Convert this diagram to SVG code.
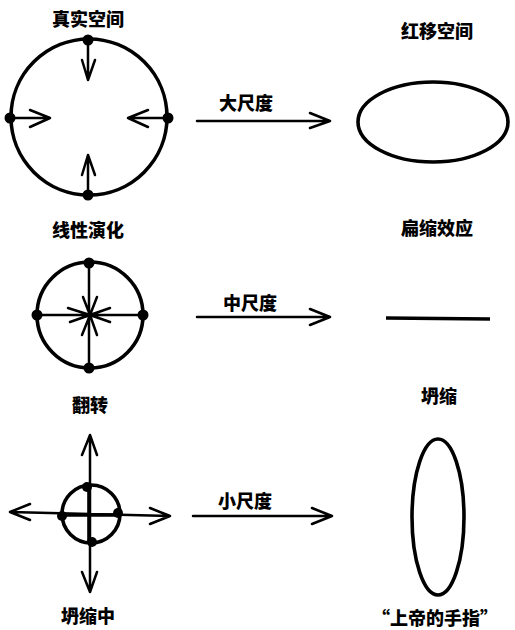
<svg xmlns="http://www.w3.org/2000/svg" width="515" height="630" viewBox="0 0 515 630">
<style>
text{font-family:"Noto Sans CJK SC","Noto Sans",sans-serif;font-weight:900;font-size:18px;fill:#000;text-anchor:middle}
.shape{fill:none;stroke:#000;stroke-width:3.6}
.ln{fill:none;stroke:#000;stroke-width:2.5;stroke-linecap:round;stroke-linejoin:round}
.dot{fill:#000}
</style>
<rect width="515" height="630" fill="#fff"/>
<!-- left column -->
<g id="real-space">
<text x="88" y="26">真实空间</text>
<circle class="shape" cx="89" cy="117" r="78"/>
<path class="ln" d="M88 40V80M82 60L88 80L95 60M10 118H50M30 110L50 118L30 127M168 118H128M148 110L128 118L148 127M88 195V155M82 175L88 155L95 175"/>
<circle class="dot" cx="88" cy="40" r="5.5"/>
<circle class="dot" cx="88" cy="195" r="5.5"/>
<circle class="dot" cx="10" cy="118" r="5.5"/>
<circle class="dot" cx="168" cy="118" r="5.5"/>
</g>
<g id="linear-evolution">
<text x="88" y="237">线性演化</text>
<circle class="shape" cx="90" cy="315" r="53"/>
<path class="ln" d="M89 263V368M37 315H143M83 297L90 315L97 297M68 308L90 315L110 308M70 322L90 315L110 322M82 335L90 315L97 335"/>
<circle class="dot" cx="89" cy="263" r="5.5"/>
<circle class="dot" cx="89" cy="368" r="5.5"/>
<circle class="dot" cx="37" cy="315" r="5.5"/>
<circle class="dot" cx="143" cy="315" r="5.5"/>
</g>
<g id="flip">
<text x="90" y="412">翻转</text>
<circle class="shape" cx="91" cy="514" r="29"/>
<path class="ln" d="M90 435V592M82 455L90 435L97 455M82 572L90 592L97 572M10 512L170 516M30 504L10 512L30 520M150 508L170 516L150 524"/>
<path class="shape" d="M62 515H120M89 486V543" stroke-width="4.2"/>
<circle class="dot" cx="87" cy="487" r="5"/>
<circle class="dot" cx="92" cy="542" r="5"/>
<circle class="dot" cx="62" cy="516" r="5"/>
<circle class="dot" cx="118" cy="513" r="5"/>
<text x="88" y="623">坍缩中</text>
</g>
<!-- connectors -->
<g id="connectors">
<path class="ln" d="M197 121H330M310 113L330 121L310 128"/>
<text x="246" y="110">大尺度</text>
<path class="ln" d="M197 317H330M310 309L330 317L310 325"/>
<text x="250" y="310">中尺度</text>
<path class="ln" d="M193 516H332M312 508L332 516L312 524"/>
<text x="245" y="508">小尺度</text>
</g>
<!-- right column -->
<g id="redshift-space">
<text x="437" y="38">红移空间</text>
<ellipse class="shape" cx="433" cy="122" rx="75" ry="40"/>
</g>
<g id="flattening">
<text x="437" y="235">扁缩效应</text>
<path class="shape" d="M386 318L490 319" stroke-width="4.2"/>
</g>
<g id="collapse">
<text x="439" y="403">坍缩</text>
<ellipse class="shape" cx="438" cy="517" rx="26" ry="78"/>
<text x="435" y="625">“上帝的手指”</text>
</g>
</svg>
